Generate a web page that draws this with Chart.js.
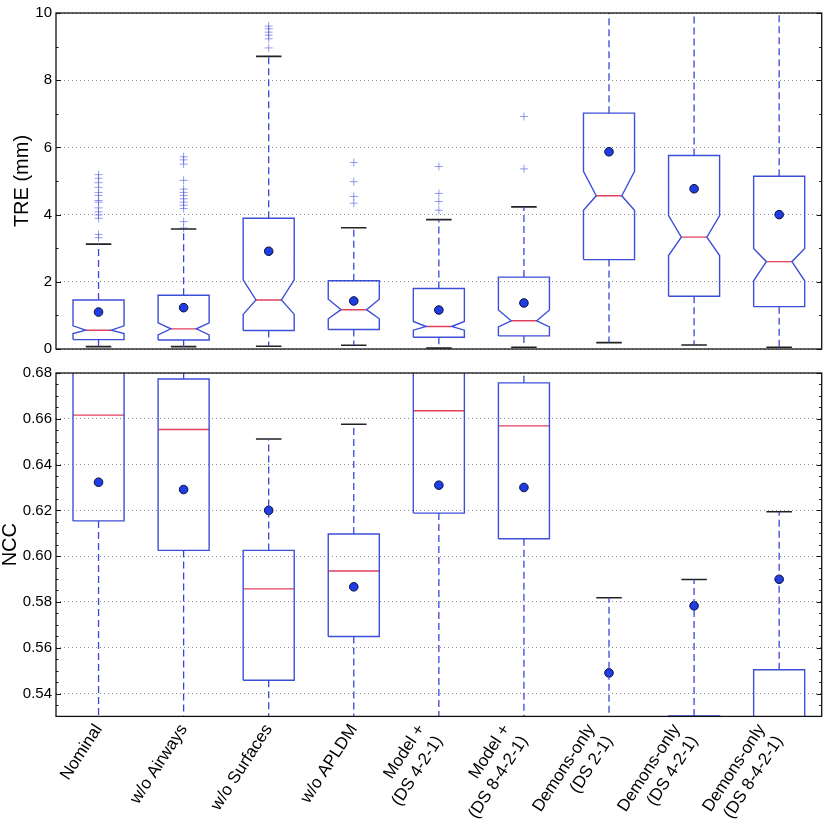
<!DOCTYPE html>
<html>
<head>
<meta charset="utf-8">
<script src="https://cdn.jsdelivr.net/npm/chart.js@4.4.1/dist/chart.umd.min.js"></script>
<style>
  html, body { margin: 0; padding: 0; background: #fff; }
  #wrap { position: relative; width: 827px; height: 830px; }
  canvas { position: absolute; left: 0; }
</style>
</head>
<body>
<div id="wrap">
  <canvas id="top" width="827" height="362" style="top:0px"></canvas>
  <canvas id="bot" width="827" height="470" style="top:360px"></canvas>
</div>
<script>
// ---------------- DATA ----------------
const categories = [
  'Nominal',
  'w/o Airways',
  'w/o Surfaces',
  'w/o APLDM',
  ['Model +', '(DS 4-2-1)'],
  ['Model +', '(DS 8-4-2-1)'],
  ['Demons-only', '(DS 2-1)'],
  ['Demons-only', '(DS 4-2-1)'],
  ['Demons-only', '(DS 8-4-2-1)']
];
const positions = [1, 2, 3, 4, 5, 6, 7, 8, 9];

// TRE (mm) - notched boxes
const treQ1      = [0.28, 0.27, 0.55, 0.58, 0.35, 0.39, 2.66, 1.57, 1.26];
const treMedian  = [0.56, 0.60, 1.46, 1.17, 0.67, 0.84, 4.56, 3.33, 2.60];
const treQ3      = [1.46, 1.60, 3.89, 2.03, 1.80, 2.14, 7.02, 5.76, 5.14];
const treNotchLo = [0.46, 0.42, 1.03, 0.90, 0.56, 0.66, 4.13, 2.78, 2.03];
const treNotchHi = [0.69, 0.78, 2.06, 1.48, 0.82, 1.16, 5.29, 3.97, 2.99];
const treWhisLo  = [0.07, 0.07, 0.08, 0.11, 0.03, 0.05, 0.19, 0.12, 0.05];
const treWhisHi  = [3.12, 3.57, 8.71, 3.61, 3.85, 4.23, 10.8, 11.5, 11.0];
const treMean    = [1.10, 1.23, 2.91, 1.43, 1.16, 1.37, 5.87, 4.77, 4.00];
const treOutliers = [
  [3.31, 3.41, 3.89, 3.99, 4.08, 4.20, 4.37, 4.42, 4.57, 4.66, 4.81, 4.95, 5.08, 5.19],
  [3.60, 3.79, 4.18, 4.28, 4.37, 4.47, 4.57, 4.66, 4.76, 5.02, 5.50, 5.63, 5.72],
  [8.96, 9.23, 9.34, 9.43, 9.53, 9.61],
  [4.34, 4.54, 4.98, 5.55],
  [4.13, 4.39, 4.63, 5.43],
  [5.36, 6.92],
  [], [], []
];
const treTicks = [0, 2, 4, 6, 8, 10];

// NCC - plain boxes
const nccQ1     = [0.6154, 0.6025, 0.5458, 0.5649, 0.6188, 0.6076, 0.505, 0.510, 0.515];
const nccMedian = [0.6616, 0.6553, 0.5857, 0.5935, 0.6635, 0.6569, 0.515, 0.520, 0.525];
const nccQ3     = [0.695, 0.6774, 0.6025, 0.6097, 0.692, 0.6757, 0.522, 0.5302, 0.5504];
const nccWhisLo = [0.500, 0.490, 0.500, 0.510, 0.500, 0.490, 0.470, 0.480, 0.480];
const nccWhisHi = [0.750, 0.740, 0.6512, 0.6576, 0.750, 0.740, 0.5818, 0.5898, 0.6194];
const nccMean   = [0.6323, 0.6291, 0.6200, 0.5866, 0.6310, 0.6300, 0.5490, 0.5783, 0.5899];
const nccTicks  = [0.54, 0.56, 0.58, 0.60, 0.62, 0.64, 0.66, 0.68];

// ---------------- STYLE ----------------
const BOX_HALF = 0.3;
const FONT = "'Liberation Sans', Arial, sans-serif";
const XLABEL_SIZE = 17, XLABEL_LH = 1.25, XLABEL_ROT = 57;
// multi-line labels: block right edge aligned on the tick (matplotlib style)
const MULTI_SHIFT_PX = -Math.sin(XLABEL_ROT * Math.PI / 180) * XLABEL_SIZE * XLABEL_LH;
const C_BOX = '#3c4fd8';
const C_MED = '#e4405c';
const C_WHIS = '#3848d4';
const C_CAP = '#222222';
const C_OUT = 'rgba(80,92,226,0.6)';
const C_MEAN = '#1e3ee4';

function buildDatasets(q1, med, q3, nlo, nhi, wlo, whi, mean, outliers) {
  const box = [], medL = [], whis = [], caps = [], outs = [], means = [];
  const w = BOX_HALF, h = BOX_HALF / 2;
  positions.forEach((p, i) => {
    if (nlo) {
      box.push({x:p-w,y:q1[i]},{x:p+w,y:q1[i]},{x:p+w,y:nlo[i]},{x:p+h,y:med[i]},
               {x:p+w,y:nhi[i]},{x:p+w,y:q3[i]},{x:p-w,y:q3[i]},{x:p-w,y:nhi[i]},
               {x:p-h,y:med[i]},{x:p-w,y:nlo[i]},{x:p-w,y:q1[i]},{x:p,y:null});
      medL.push({x:p-h,y:med[i]},{x:p+h,y:med[i]},{x:p,y:null});
    } else {
      box.push({x:p-w,y:q1[i]},{x:p+w,y:q1[i]},{x:p+w,y:q3[i]},{x:p-w,y:q3[i]},
               {x:p-w,y:q1[i]},{x:p,y:null});
      medL.push({x:p-w,y:med[i]},{x:p+w,y:med[i]},{x:p,y:null});
    }
    whis.push({x:p,y:q3[i]},{x:p,y:whi[i]},{x:p,y:null},{x:p,y:q1[i]},{x:p,y:wlo[i]},{x:p,y:null});
    caps.push({x:p-h,y:whi[i]},{x:p+h,y:whi[i]},{x:p,y:null},{x:p-h,y:wlo[i]},{x:p+h,y:wlo[i]},{x:p,y:null});
    if (outliers) outliers[i].forEach(v => outs.push({x:p,y:v}));
    means.push({x:p,y:mean[i]});
  });
  const line = (data, color, width, dash) => ({
    data, showLine: true, borderColor: color, borderWidth: width, borderDash: dash || [],
    pointRadius: 0, pointHoverRadius: 0, spanGaps: false, fill: false, clip: 0, tension: 0
  });
  return [
    line(whis, C_WHIS, 1.3, [7, 4]),
    line(box, C_BOX, 1.4),
    line(medL, C_MED, 1.4),
    line(caps, C_CAP, 1.6),
    { data: outs, showLine: false, pointStyle: 'cross', pointRadius: 4, borderColor: C_OUT,
      borderWidth: 1, backgroundColor: C_OUT, clip: 0 },
    { data: means, showLine: false, pointStyle: 'circle', pointRadius: 4.3, borderColor: '#0b0b3a',
      borderWidth: 1, backgroundColor: C_MEAN, clip: 0 }
  ];
}

// frame + inward matplotlib-like ticks
const frameTicks = {
  id: 'frameTicks',
  afterDraw(chart, args, o) {
    const {ctx, chartArea: a, scales: {x, y}} = chart;
    ctx.save();
    ctx.strokeStyle = '#111';
    ctx.lineWidth = 1;
    const seg = (x1, y1, x2, y2) => { ctx.beginPath(); ctx.moveTo(x1, y1); ctx.lineTo(x2, y2); ctx.stroke(); };
    const nx = Math.round((x.max - x.min) / o.xMinor);
    for (let k = 0; k <= nx; k++) {
      const v = x.min + k * o.xMinor;
      const major = Math.abs(v - Math.round(v)) < 1e-6;
      const minorOK = Math.abs(v / o.xMinor - Math.round(v / o.xMinor)) < 1e-6;
      if (!major && !minorOK) continue;
      const px = Math.round(x.getPixelForValue(v)) + 0.5;
      const L = major ? 5 : 2.5;
      seg(px, a.bottom, px, a.bottom - L);
      seg(px, a.top, px, a.top + L);
    }
    const ny = Math.round((y.max - y.min) / o.yMinor);
    for (let k = 0; k <= ny; k++) {
      const v = y.min + k * o.yMinor;
      const major = Math.abs(v / o.yMajor - Math.round(v / o.yMajor)) < 1e-6;
      const py = Math.round(y.getPixelForValue(v)) + 0.5;
      const L = major ? 5 : 2.5;
      seg(a.left, py, a.left + L, py);
      seg(a.right, py, a.right - L, py);
    }
    ctx.lineWidth = 1.3;
    ctx.strokeStyle = '#111';
    ctx.strokeRect(a.left, a.top, a.width, a.height);
    ctx.restore();
  }
};

function makeChart(id, cfg) {
  return new Chart(document.getElementById(id), {
    type: 'scatter',
    data: { datasets: cfg.datasets },
    plugins: [frameTicks],
    options: {
      responsive: false,
      animation: false,
      events: [],
      layout: { padding: cfg.padding },
      plugins: { legend: { display: false }, tooltip: { enabled: false }, frameTicks: cfg.ticks },
      scales: {
        x: {
          type: 'linear', min: 0.5, max: 9.5,
          display: cfg.showX,
          grid: { display: false, drawTicks: false },
          border: { display: false },
          afterBuildTicks: (s) => {
            const pxPerUnit = (827 - 1 - 56) / (9.5 - 0.5);
            s.ticks = positions.map((p, i) => ({
              value: p + (Array.isArray(categories[i]) ? MULTI_SHIFT_PX / pxPerUnit : 0)
            }));
          },
          afterFit: (s) => { if (cfg.xHeight) s.height = cfg.xHeight; },
          ticks: {
            autoSkip: false, minRotation: XLABEL_ROT, maxRotation: XLABEL_ROT, padding: 4,
            color: '#000', font: { family: FONT, size: XLABEL_SIZE, lineHeight: XLABEL_LH },
            callback: (v, i) => categories[i]
          }
        },
        y: {
          type: 'linear', min: cfg.yMin, max: cfg.yMax,
          afterBuildTicks: (s) => { s.ticks = cfg.yTicks.map(v => ({ value: v })); },
          afterFit: (s) => { s.width = 56; },
          grid: { color: '#8a8a8a', lineWidth: 1, drawTicks: false },
          border: { display: false, dash: [1, 3] },
          ticks: {
            autoSkip: false, padding: 4, color: '#000', font: { family: FONT, size: 15 },
            callback: cfg.yFmt
          },
          title: {
            display: true, text: cfg.yTitle, color: '#000',
            font: { family: FONT, size: 20, lineHeight: cfg.titleLH },
            padding: cfg.titlePad
          }
        }
      }
    }
  });
}

makeChart('top', {
  datasets: buildDatasets(treQ1, treMedian, treQ3, treNotchLo, treNotchHi, treWhisLo, treWhisHi, treMean, treOutliers),
  padding: { top: 7, right: 1, bottom: 9, left: 0 },
  showX: false,
  yMin: 0, yMax: 10, yTicks: treTicks,
  yFmt: (v) => String(v),
  yTitle: 'TRE (mm)', titleLH: 1.2, titlePad: { top: 10, bottom: 0 },
  ticks: { xMinor: 0.2, yMinor: 1, yMajor: 2 }
});

makeChart('bot', {
  datasets: buildDatasets(nccQ1, nccMedian, nccQ3, null, null, nccWhisLo, nccWhisHi, nccMean, null),
  padding: { top: 10.7, right: 1, bottom: 0, left: 0 },
  showX: true, xHeight: 113.6,
  yMin: 0.53, yMax: 0.68, yTicks: nccTicks,
  yFmt: (v) => v.toFixed(2),
  yTitle: 'NCC', titleLH: 1.0, titlePad: { top: 0, bottom: 0 },
  ticks: { xMinor: 0.2, yMinor: 0.005, yMajor: 0.02 }
});
</script>
</body>
</html>
